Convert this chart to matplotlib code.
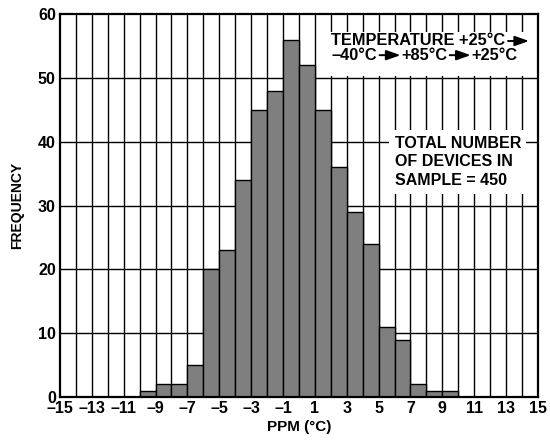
import matplotlib.pyplot as plt
import numpy as np
from matplotlib.patches import Rectangle

plt.rcParams['font.family'] = ['Liberation Sans', 'DejaVu Sans']
plt.rcParams['font.weight'] = 'bold'

# histogram of PPM drift, 1 ppm bins from -10 to 10
bin_left = list(range(-10, 10))
counts = [1, 2, 2, 5, 20, 23, 34, 45, 48, 56, 52, 45, 36, 29, 24, 11, 9, 2, 1, 1]

x_ticks = list(range(-15, 16, 2))
x_labels = [str(t).replace('-', '\u2013') for t in x_ticks]
y_ticks = list(range(0, 61, 10))

# None marks a filled arrow between the pieces
temp_line1 = ['TEMPERATURE +25\u00b0C', None]
temp_line2 = ['\u201340\u00b0C', None, '+85\u00b0C', None, '+25\u00b0C']
sample_text = 'TOTAL NUMBER\nOF DEVICES IN\nSAMPLE = 450'

fig = plt.figure(figsize=(5.5, 4.44), dpi=100)
ax = fig.add_axes([0.109, 0.106, 0.869, 0.862])

# grid
for xv in range(-14, 15):
    ax.axvline(xv, color='black', lw=1.0, zorder=1)
for yv in y_ticks[1:-1]:
    ax.axhline(yv, color='black', lw=1.0, zorder=1)

ax.bar(bin_left, counts, width=1.0, align='edge', color='#7f7f7f',
       edgecolor='black', linewidth=1.0, zorder=3)

ax.set_xlim(-15, 15)
ax.set_ylim(0, 60)
ax.set_xticks(x_ticks)
ax.set_xticklabels(x_labels)
ax.set_yticks(y_ticks)
ax.tick_params(axis='x', length=0, labelsize=11.5, pad=3)
ax.tick_params(axis='y', length=0, labelsize=11.5, pad=3)
for lab in ax.get_xticklabels() + ax.get_yticklabels():
    lab.set_fontweight('bold')
for s in ax.spines.values():
    s.set_linewidth(1.6)
    s.set_zorder(5)

ax.set_xlabel('PPM (\u00b0C)', fontsize=11, fontweight='bold', labelpad=3)
ax.set_ylabel('FREQUENCY', fontsize=10, fontweight='bold', labelpad=10)

# white box behind the temperature note
ax.add_patch(Rectangle((0.563, 0.838), 0.414, 0.115, transform=ax.transAxes,
                       facecolor='white', edgecolor='none', zorder=4))

renderer = fig.canvas.get_renderer()
ax_w = ax.get_window_extent(renderer).width


def draw_line(pieces, x, y, fs):
    # lay text and filled arrows side by side, in axes fraction
    gap = 2.5 / ax_w
    L = 21 / ax_w
    for p in pieces:
        if p is None:
            ax.annotate('', xy=(x + gap + L, y), xytext=(x + gap, y),
                        xycoords='axes fraction',
                        arrowprops=dict(arrowstyle='-|>,head_length=0.85,head_width=0.3',
                                        lw=1.4, color='black', shrinkA=0, shrinkB=0,
                                        mutation_scale=10),
                        zorder=6)
            x += gap + L + 0.5 / ax_w
        else:
            t = ax.text(x, y, p, transform=ax.transAxes, fontsize=fs, fontweight='bold',
                        ha='left', va='center', zorder=6)
            x += t.get_window_extent(renderer).width / ax_w


draw_line(temp_line1, 0.568, 0.930, 11.8)
draw_line(temp_line2, 0.568, 0.893, 11.8)

box = dict(facecolor='white', edgecolor='none', pad=4)
ax.text(0.7, 0.614, sample_text,
        transform=ax.transAxes, fontsize=11.5, fontweight='bold', ha='left', va='center',
        linespacing=1.3, bbox=box, zorder=6)

fig.savefig('out.png', dpi=100)
